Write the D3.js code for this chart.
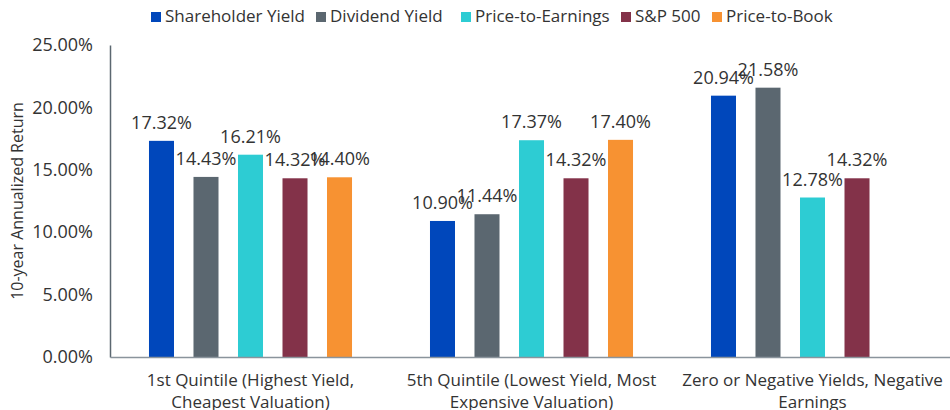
<!DOCTYPE html>
<html>
<head>
<meta charset="utf-8">
<script src="https://cdn.jsdelivr.net/npm/d3@7"></script>
<style>
  body { margin: 0; background: #fff; }
  text { font-family: "Open Sans", Lato, sans-serif; fill: #333; }
</style>
</head>
<body>
<div id="chart"></div>
<script>
const categories = [
  ["1st Quintile (Highest Yield,", "Cheapest Valuation)"],
  ["5th Quintile (Lowest Yield, Most", "Expensive Valuation)"],
  ["Zero or Negative Yields, Negative", "Earnings"]
]
const seriesNames = ["Shareholder Yield", "Dividend Yield", "Price-to-Earnings", "S&P 500", "Price-to-Book"]
const seriesColors = ["#0047bb", "#5b6770", "#2dccd3", "#833249", "#f79232"]

const shareholderYield = [17.32, 10.90, 20.94]
const dividendYield = [14.43, 11.44, 21.58]
const priceToEarnings = [16.21, 17.37, 12.78]
const sp500 = [14.32, 14.32, 14.32]
const priceToBook = [14.40, 17.40, null]

const yTicks = [0, 5, 10, 15, 20, 25]

const width = 950, height = 410
const margin = {top: 45, right: -3, bottom: 53, left: 110}
const innerW = width - margin.left - margin.right
const innerH = height - margin.top - margin.bottom

const allSeries = [shareholderYield, dividendYield, priceToEarnings, sp500, priceToBook]

const svg = d3.select("#chart").append("svg")
  .attr("width", width)
  .attr("height", height)

const plt = svg.append("g")
  .attr("transform", "translate(" + margin.left + "," + margin.top + ")")

const x0 = d3.scaleBand()
  .domain(d3.range(categories.length))
  .range([0, innerW])

const x1 = d3.scaleBand()
  .domain(seriesNames)
  .range([0, x0.bandwidth()])
  .paddingInner(0.438)
  .paddingOuter(0.876)

const y = d3.scaleLinear()
  .domain([0, 25])
  .range([innerH, 0])

// bars
const rows = []
categories.forEach((c, i) => {
  seriesNames.forEach((s, j) => {
    const v = allSeries[j][i]
    if (v !== null) rows.push({cat: i, series: s, color: seriesColors[j], value: v})
  })
})

plt.selectAll(".bar")
  .data(rows)
  .enter()
  .append("rect")
  .attr("class", "bar")
  .attr("x", d => x0(d.cat) + x1(d.series))
  .attr("y", d => y(d.value))
  .attr("width", x1.bandwidth())
  .attr("height", d => innerH - y(d.value))
  .attr("fill", d => d.color)

// value labels
plt.selectAll(".valueLabel")
  .data(rows)
  .enter()
  .append("text")
  .attr("class", "valueLabel")
  .attr("x", d => x0(d.cat) + x1(d.series) + x1.bandwidth() / 2)
  .attr("y", d => y(d.value) - 12)
  .attr("text-anchor", "middle")
  .style("font-size", "18px")
  .text(d => d.value.toFixed(2) + "%")

// y axis
const yAxis = plt.append("g")
  .call(d3.axisLeft(y).tickValues(yTicks).tickSize(0).tickPadding(17).tickFormat(d => d.toFixed(2) + "%"))
yAxis.select(".domain").attr("stroke", "#5b6770").attr("stroke-width", 1.5)
yAxis.selectAll("text").style("font-size", "18px").attr("fill", "#333")

// x axis
const xAxis = plt.append("g")
  .attr("transform", "translate(0," + innerH + ")")
  .call(d3.axisBottom(x0).tickSize(0).tickFormat(""))
xAxis.select(".domain").attr("stroke", "#8a949c").attr("stroke-width", 1.5)

// category labels on two lines
categories.forEach((lines, i) => {
  const t = plt.append("text")
    .attr("x", x0(i) + x0.bandwidth() / 2)
    .attr("y", innerH + 29)
    .attr("text-anchor", "middle")
    .style("font-size", "17px")
  lines.forEach((l, k) => {
    t.append("tspan")
      .attr("x", x0(i) + x0.bandwidth() / 2)
      .attr("dy", k === 0 ? 0 : 22)
      .text(l)
  })
})

// y title
svg.append("text")
  .attr("transform", "translate(23," + (margin.top + innerH / 2) + ") rotate(-90)")
  .attr("text-anchor", "middle")
  .style("font-size", "16px")
  .text("10-year Annualized Return")

// legend
const legendX = [151, 316, 461, 621, 712]
const legend = svg.selectAll(".legend")
  .data(seriesNames)
  .enter()
  .append("g")
  .attr("class", "legend")
  .attr("transform", (d, i) => "translate(" + legendX[i] + ",12)")
legend.append("rect")
  .attr("width", 10)
  .attr("height", 10)
  .attr("fill", (d, i) => seriesColors[i])
legend.append("text")
  .attr("x", 14)
  .attr("y", 10)
  .style("font-size", "17px")
  .text(d => d)
</script>
</body>
</html>
